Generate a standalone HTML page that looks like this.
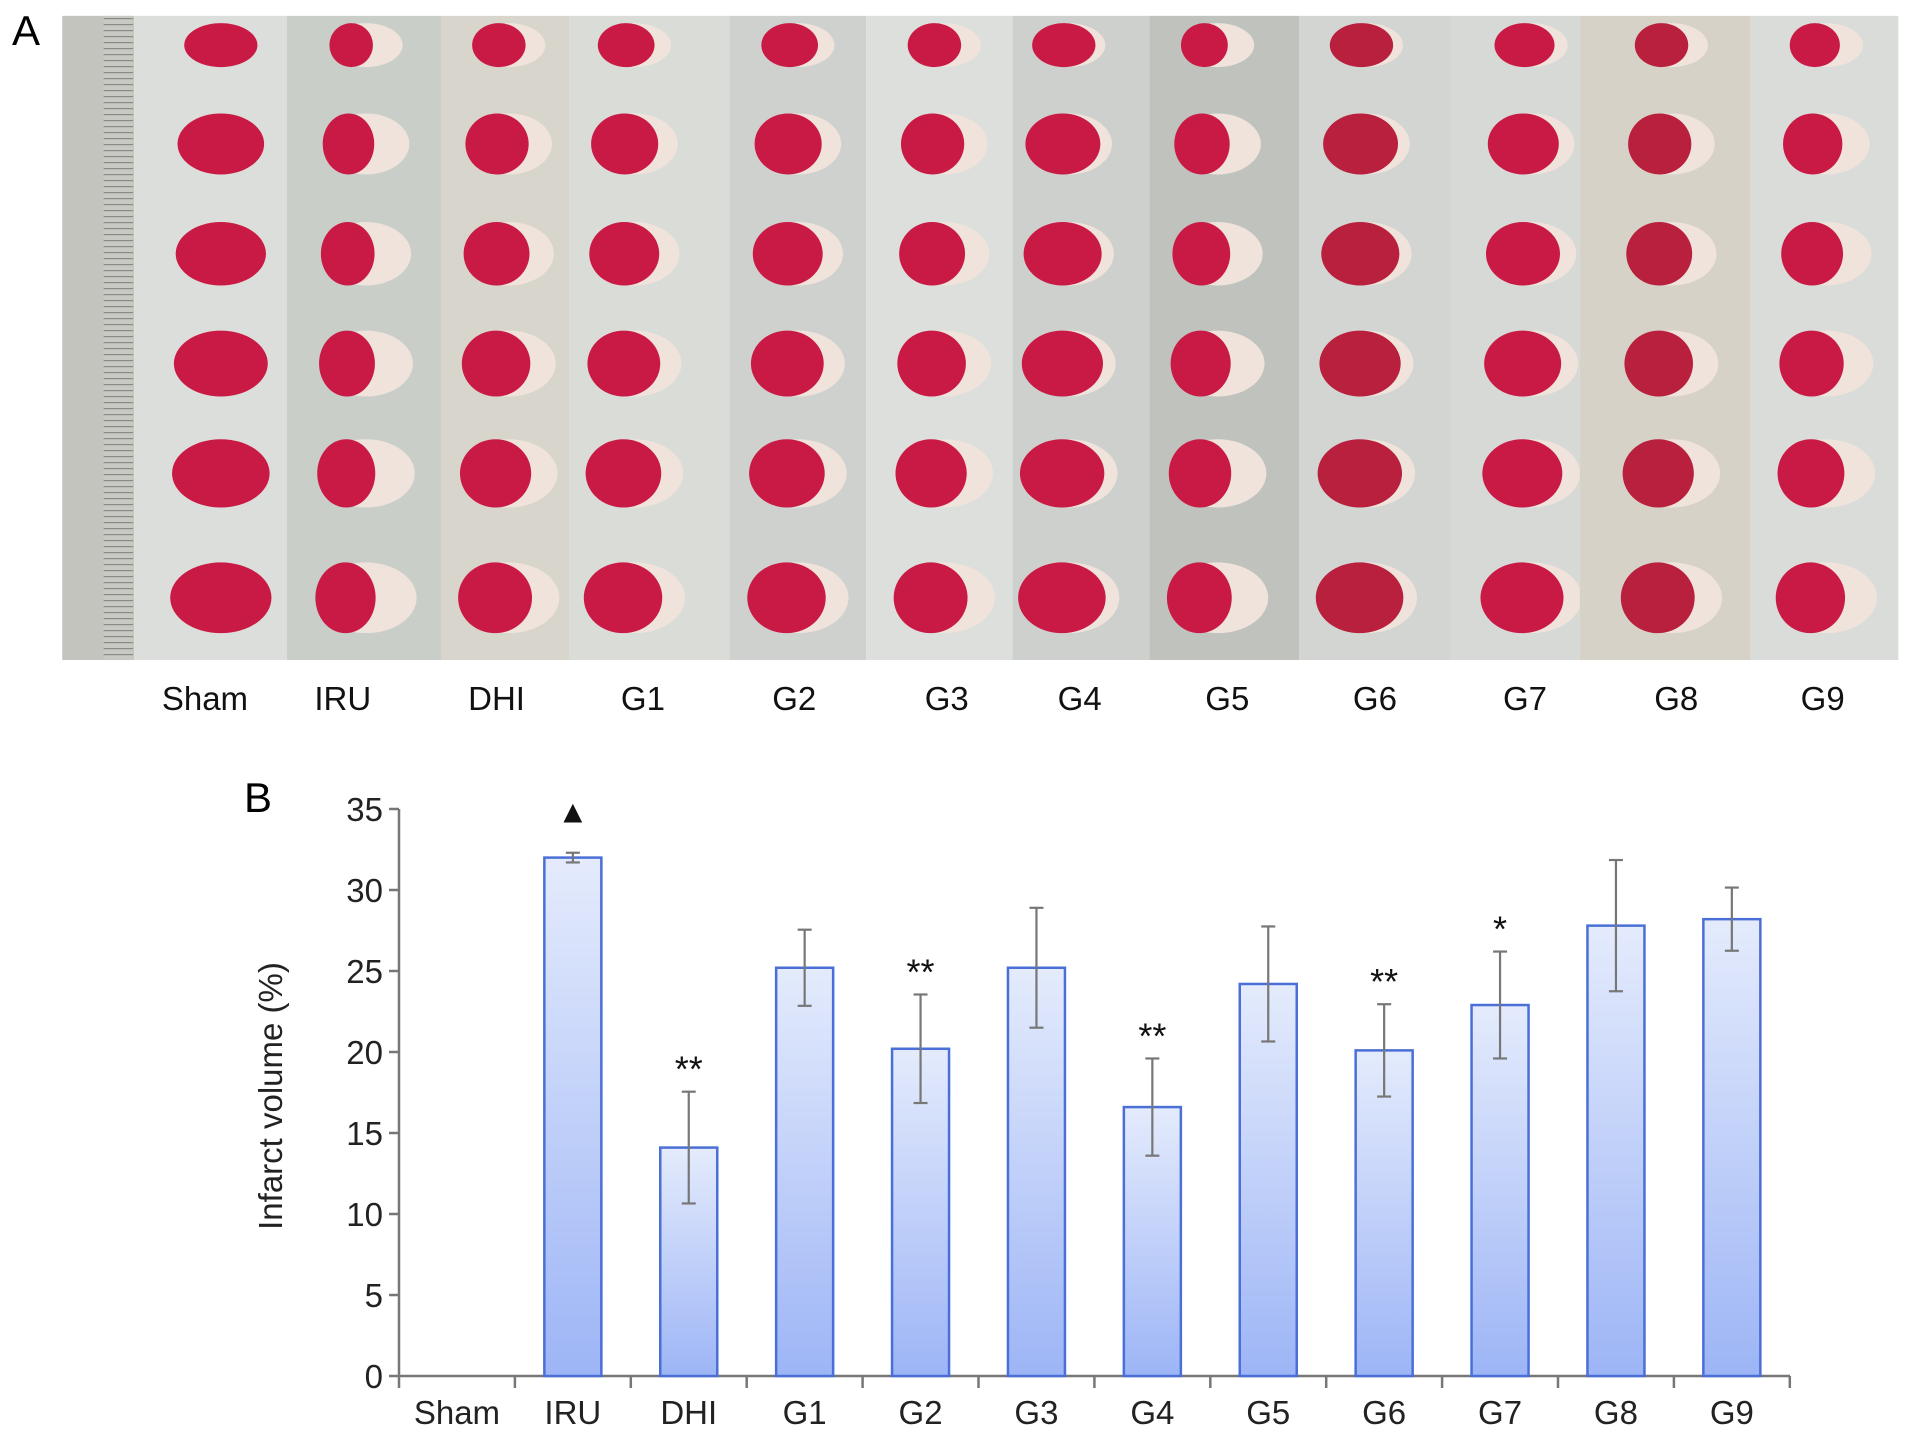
<!DOCTYPE html>
<html><head><meta charset="utf-8"><style>
body{margin:0;background:#fff;width:1913px;height:1436px;overflow:hidden;font-family:"Liberation Sans",sans-serif}
svg{position:absolute;left:0;top:0}
</style></head><body>
<svg id="fig" width="1913" height="1436" viewBox="0 0 1913 1436">
<defs>
<linearGradient id="barGrad" x1="0" y1="0" x2="0" y2="1">
<stop offset="0" stop-color="#e4ebfc"/><stop offset="1" stop-color="#9db5f6"/></linearGradient>
<pattern id="ruler" width="6" height="6" patternUnits="userSpaceOnUse"><rect width="6" height="6" fill="#c9c9c4"/><rect y="0" width="14" height="1.2" fill="#8a8a86"/></pattern>
</defs>
<text x="12" y="45" font-size="42">A</text>
<g id="photo"></g>
<g id="photoLabels"></g>
<text x="244" y="812" font-size="42">B</text>
<g id="chart"></g>
</svg>
<script>
const categories=["Sham","IRU","DHI","G1","G2","G3","G4","G5","G6","G7","G8","G9"];
const values=[0,32.0,14.1,25.2,20.2,25.2,16.6,24.2,20.1,22.9,27.8,28.2];
const errors=[0,0.3,3.45,2.35,3.35,3.7,3.0,3.55,2.85,3.3,4.05,1.95];
const marks=["","\u25B2","**","","**","","**","","**","*","",""];
const yTicks=[0,5,10,15,20,25,30,35];
const NS="http://www.w3.org/2000/svg";
function mk(tag,attrs,parent,txt){const e=document.createElementNS(NS,tag);for(const k in attrs)e.setAttribute(k,attrs[k]);if(txt!==undefined)e.textContent=txt;parent.appendChild(e);return e;}
const S=1.22;
const photo=document.getElementById('photo');
const bounds=[110,235,362,467,598,710,830,942,1065,1190,1295,1435,1556];
const bgs=["#dcdedb","#c9cec8","#d8d5cc","#dadcd8","#cfd1ce","#dcdfdb","#cdd0cc","#bfc2bd","#d2d5d2","#d6d9d6","#d6d2c8","#d9dcd9"];
const colX=[181,300,417,520,654,774,876,998,1120,1255,1370,1497];
const rowY=[37,118,208,298,388,490];
const infarct=[0,0.45,0.3,0.25,0.25,0.3,0.15,0.4,0.15,0.2,0.3,0.35];
mk('rect',{x:51*S,y:13*S,width:59*S,height:528*S,fill:'#c4c4bf'},photo);
mk('rect',{x:85*S,y:13*S,width:24*S,height:528*S,fill:'url(#ruler)'},photo);
for(let i=0;i<12;i++){
  mk('rect',{x:bounds[i]*S,y:13*S,width:(bounds[i+1]-bounds[i])*S,height:528*S,fill:bgs[i]},photo);
  for(let r=0;r<6;r++){
    const cx=colX[i]*S,cy=rowY[r]*S,rx=(r==0?30:34+r*1.5)*S,ry=(r==0?18:24+r)*S;
    mk('ellipse',{cx:cx,cy:cy,rx:rx,ry:ry,fill:'#efe3dc'},photo);
    mk('ellipse',{cx:cx-rx*infarct[i]*0.9,cy:cy,rx:rx*(1-infarct[i]*0.9),ry:ry,fill:i==8||i==10?'#b8203e':'#c91a45'},photo);
  }
}
const pl=document.getElementById('photoLabels');
const plX=[168,281,407,527,651,776,885,1006,1127,1250,1374,1494];
categories.forEach((c,i)=>{const t=mk('text',{x:plX[i]*S,y:582*S,'font-size':33,'text-anchor':'middle',fill:'#111'},pl,c);

});
const g=document.getElementById('chart');
const axX=399,y0=1376,y35=809,xEnd=1790,band=115.9;
const yS=v=>y0-(v/35)*(y0-y35);
const xC=i=>axX+band*(i+0.5);
mk('line',{x1:axX,y1:y35,x2:axX,y2:y0,stroke:'#777','stroke-width':2.5},g);
mk('line',{x1:axX,y1:y0,x2:xEnd,y2:y0,stroke:'#777','stroke-width':2.5},g);
yTicks.forEach(v=>{
  mk('line',{x1:axX-10,y1:yS(v),x2:axX,y2:yS(v),stroke:'#777','stroke-width':2.5},g);
  const t=mk('text',{x:axX-16,y:yS(v)+12,'font-size':33,'text-anchor':'end',fill:'#222'},g,String(v));
  
  
});
for(let i=0;i<=categories.length;i++){mk('line',{x1:axX+band*i,y1:y0,x2:axX+band*i,y2:y0+12,stroke:'#777','stroke-width':2.5},g);}
const yt=mk('text',{x:282,y:1096,'font-size':33,'text-anchor':'middle',fill:'#222',transform:'rotate(-90 282 1096)'},g,'Infarct volume (%)');


const bw=57;
categories.forEach((c,i)=>{
  const cx=xC(i);
  if(values[i]>0){
    const b=mk('rect',{x:cx-bw/2,y:yS(values[i]),width:bw,height:y0-yS(values[i]),fill:'url(#barGrad)',stroke:'#4a6fd6','stroke-width':2.5},g);
    
    
    const hi=yS(values[i]+errors[i]),lo=yS(values[i]-errors[i]);
    const eb=mk('g',{stroke:'#777','stroke-width':2.2},g);
    
    
    mk('line',{x1:cx,y1:hi,x2:cx,y2:lo},eb);
    mk('line',{x1:cx-7,y1:hi,x2:cx+7,y2:hi},eb);
    mk('line',{x1:cx-7,y1:lo,x2:cx+7,y2:lo},eb);
    if(marks[i]){
      const isTri=marks[i]==="\u25B2";
      const m=mk('text',{x:cx,y:isTri?yS(values[i]+errors[i])-30:hi-10,'font-size':isTri?32:36,'text-anchor':'middle',fill:'#111'},g,marks[i]);
      
      
    }
  }
  const t=mk('text',{x:cx,y:1424,'font-size':33,'text-anchor':'middle',fill:'#222'},g,c);
  
  
});
</script>
</body></html>
